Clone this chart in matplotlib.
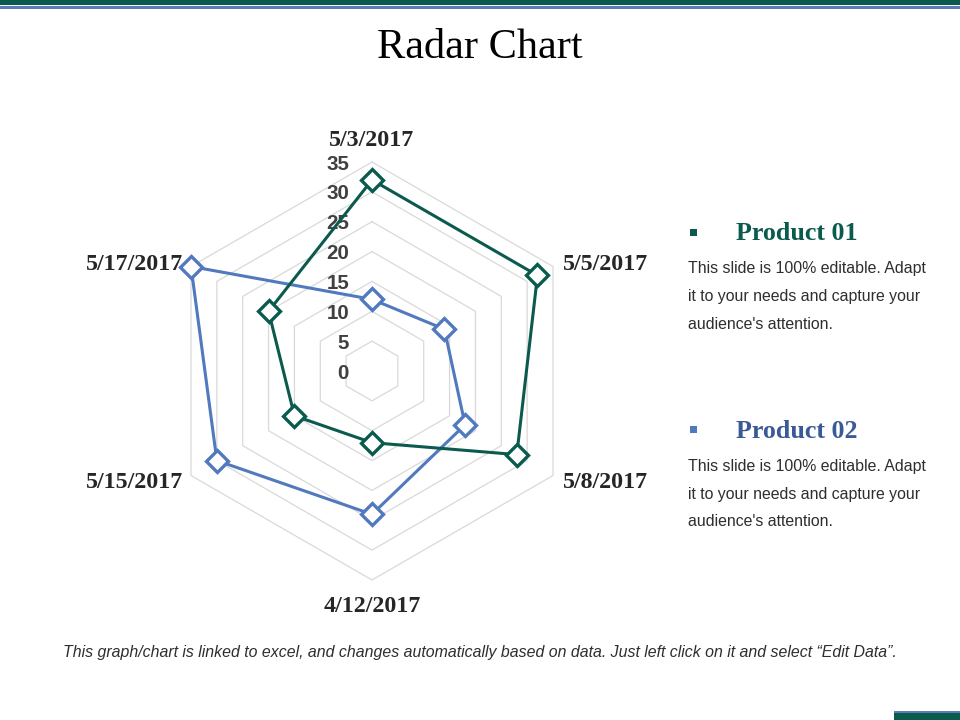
import numpy as np
import matplotlib
matplotlib.use("Agg")
import matplotlib.pyplot as plt
from matplotlib.patches import Rectangle

categories = ["5/3/2017", "5/5/2017", "5/8/2017", "4/12/2017", "5/15/2017", "5/17/2017"]
product_01 = [32, 32, 28, 12, 15, 20]
product_02 = [12, 14, 18, 24, 30, 35]
ring_values = [5, 10, 15, 20, 25, 30, 35]
tick_labels = ["0", "5", "10", "15", "20", "25", "30", "35"]
series_names = ["Product 01", "Product 02"]
body_text = ["This slide is 100% editable. Adapt",
             "it to your needs and capture your",
             "audience's attention."]

TEAL = "#0B5A4E"
BLUE = "#5179BE"
HEAD2 = "#3A5A96"
GREY_TXT = "#2E2E2E"

W, H = 960, 720
fig = plt.figure(figsize=(9.6, 7.2), dpi=100)
fig.patch.set_facecolor("white")

def fx(px):
    return px / W

def fy(py):
    return 1 - py / H

# decorative bars
fig.add_artist(Rectangle((0, fy(5)), 1, 5 / H, transform=fig.transFigure, color=TEAL, lw=0))
fig.add_artist(Rectangle((0, fy(9)), 1, 3.2 / H, transform=fig.transFigure, color="#5B7DB8", lw=0))
fig.add_artist(Rectangle((fx(894), fy(713)), 66 / W, 2 / H, transform=fig.transFigure, color="#5B7DB8", lw=0))
fig.add_artist(Rectangle((fx(894), 0), 66 / W, 7 / H, transform=fig.transFigure, color=TEAL, lw=0))

# title
fig.text(fx(480), fy(48), "Radar Chart", ha="center", va="center",
         family="Liberation Serif", fontsize=30.5, color="black")

# radar axes
cx, cy, R = 372, 371, 209
rmax = 35
ax = fig.add_axes([fx(cx - R), fy(cy + R), 2 * R / W, 2 * R / H], projection="polar")
ax.set_theta_zero_location("N")
ax.set_theta_direction(-1)
ax.set_ylim(0, rmax)
ax.set_xticks([])
ax.set_yticks([])
ax.grid(False)
ax.spines["polar"].set_visible(False)
ax.patch.set_alpha(0)

n = len(categories)
theta = np.arange(n) * 2 * np.pi / n
theta_c = np.append(theta, theta[0])

for rv in ring_values:
    ax.plot(theta_c, [rv] * (n + 1), color="#D9D9D9", lw=0.9, zorder=1, clip_on=False)

# radial tick labels
for i, lab in enumerate(tick_labels):
    ax.annotate(lab, xy=(0, i * 5), xytext=(-23 * 0.72, -1.5), textcoords="offset points",
                ha="right", va="center", family="Liberation Sans", fontweight="bold",
                fontsize=14.8, color="#404040", zorder=2, annotation_clip=False)

# category labels
offsets = [(0, 21, "center"), (10, 2, "left"), (10, -7, "left"),
           (0, -26, "center"), (-8, -7, "right"), (-8, 2, "right")]
for th, lab, (dx, dy, ha) in zip(theta, categories, offsets):
    ax.annotate(lab, xy=(th, rmax), xytext=(dx * 0.72, dy * 0.72), textcoords="offset points",
                ha=ha, va="center", family="Liberation Serif", fontweight="bold",
                fontsize=17.3, color="#262626", annotation_clip=False)

for vals, col in [(product_02, BLUE), (product_01, TEAL)]:
    v = np.append(vals, vals[0])
    ax.plot(theta_c, v, color=col, lw=2.2, zorder=3, clip_on=False)
    ax.plot(theta, vals, ls="none", marker="D", ms=11, mfc="white", mec=col, mew=2.4,
            zorder=4, clip_on=False)

# right-hand text blocks
for name, col, sq_col, y0 in [(series_names[0], TEAL, TEAL, 234), (series_names[1], HEAD2, BLUE, 431)]:
    fig.add_artist(Rectangle((fx(690), fy(y0 + 2)), 7 / W, 7 / H, transform=fig.transFigure,
                             color=sq_col, lw=0))
    fig.text(fx(736), fy(y0), name, ha="left", va="center", family="Liberation Serif",
             fontweight="bold", fontsize=18.7, color=col)
    for k, line in enumerate(body_text):
        fig.text(fx(688), fy(y0 + 35 + 28 * k), line, ha="left", va="center",
                 family="Liberation Sans", fontsize=11.4, color=GREY_TXT)

fig.text(fx(480), fy(652),
         "This graph/chart is linked to excel, and changes automatically based on data. "
         "Just left click on it and select \u201cEdit Data\u201d.",
         ha="center", va="center", family="Liberation Sans", style="italic",
         fontsize=11.4, color=GREY_TXT)

fig.savefig("out.png", dpi=100)
